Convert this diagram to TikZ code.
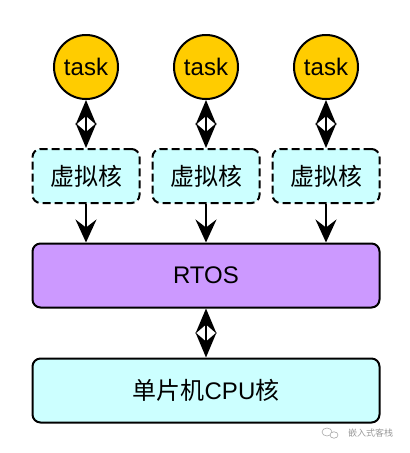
\documentclass[tikz,border=0pt]{standalone}
\usepackage{fontspec}
\setmainfont{Liberation Sans}
\newfontfamily\cjk{Noto Sans CJK SC}
\usetikzlibrary{arrows.meta}
\definecolor{taskfill}{HTML}{FFCC00}
\definecolor{cyanfill}{HTML}{CCFFFF}
\definecolor{rtosfill}{HTML}{CC99FF}
\begin{document}
\begin{tikzpicture}[x=1pt,y=-1pt,
  taskc/.style={circle,draw=black,line width=2pt,fill=taskfill,minimum size=64pt,inner sep=0pt,font=\fontsize{24}{28}\selectfont},
  vbox/.style={rectangle,rounded corners=8pt,draw=black,line width=2pt,dash pattern=on 8pt off 4pt,fill=cyanfill,minimum width=107pt,minimum height=54pt,inner sep=0pt,font=\fontsize{24}{28}\selectfont\cjk},
  wbox/.style={rectangle,rounded corners=8pt,draw=black,line width=2pt,minimum width=347pt,minimum height=64pt,inner sep=0pt,font=\fontsize{24}{28}\selectfont},
  sarr/.style={line width=2pt,-{Stealth[length=23pt,width=21pt,inset=8pt]}},
  darr/.style={line width=2pt,{Stealth[length=25pt,width=21pt,inset=9pt]}-{Stealth[length=25pt,width=21pt,inset=9pt]}},
  wm/.style={text=black!40,font=\fontsize{9}{10}\selectfont\cjk,inner sep=0pt}
]
\useasboundingbox (0,0) rectangle (410,453);
\node[taskc] (t1) at (86,67) {task};
\node[taskc] (t2) at (206,67) {task};
\node[taskc] (t3) at (326,67) {task};
\node[vbox] (v1) at (86,176) {虚拟核};
\node[vbox] (v2) at (206,176) {虚拟核};
\node[vbox] (v3) at (326,176) {虚拟核};
\node[wbox,fill=rtosfill] (rtos) at (206,275.5) {RTOS};
\node[wbox,fill=cyanfill] (cpu) at (206,390.5) {{\cjk 单片机}CPU{\cjk 核}};
\foreach \i in {1,2,3}{
  \draw[darr] (t\i.south) -- (v\i.north);
  \draw[sarr] (v\i.south) -- (v\i.south |- rtos.north);
}
\draw[darr] (rtos.south) -- (cpu.north);
\node[wm,anchor=west] (wmt) at (348,433) {嵌入式客栈};
\draw[black!35,line width=0.6pt] (327,432) ellipse (5pt and 4pt);
\draw[black!35,line width=0.6pt,fill=white] (334,435) ellipse (4pt and 3.2pt);
\end{tikzpicture}
\end{document}
